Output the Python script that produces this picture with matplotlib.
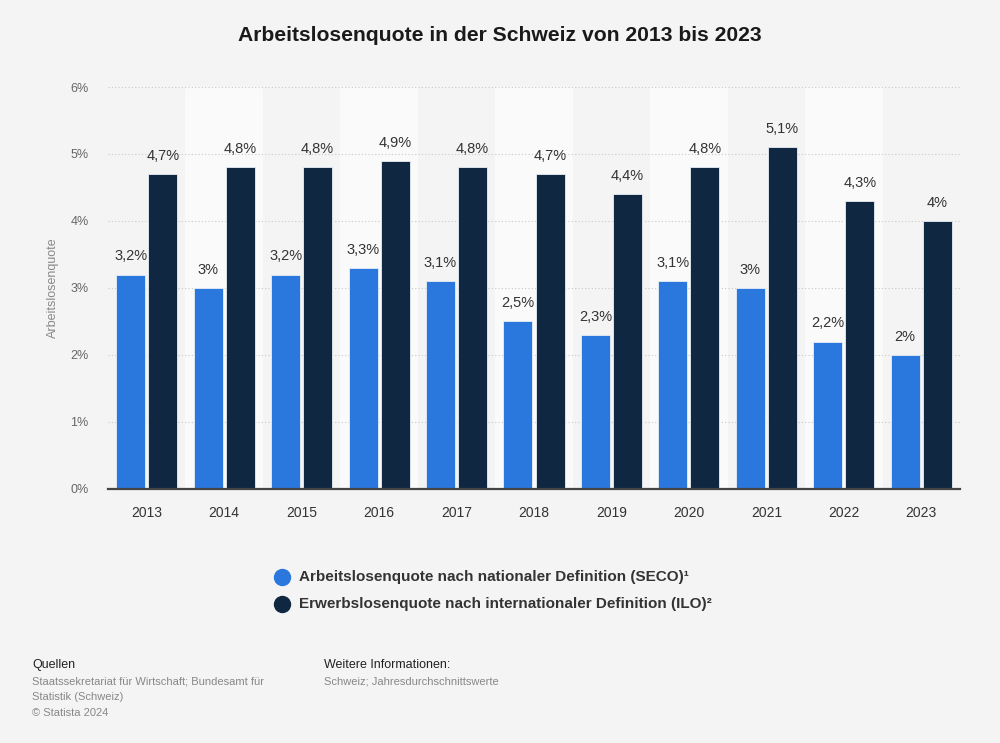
import numpy as np
import matplotlib.pyplot as plt
from matplotlib.lines import Line2D

plt.rcParams['font.family'] = ['Liberation Sans', 'DejaVu Sans']

# ============================= Data ============================= #
years = ['2013', '2014', '2015', '2016', '2017', '2018', '2019', '2020', '2021', '2022', '2023']
seco = [3.2, 3.0, 3.2, 3.3, 3.1, 2.5, 2.3, 3.1, 3.0, 2.2, 2.0]
ilo = [4.7, 4.8, 4.8, 4.9, 4.8, 4.7, 4.4, 4.8, 5.1, 4.3, 4.0]
yticks = [0, 1, 2, 3, 4, 5, 6]
series_names = ['Arbeitslosenquote nach nationaler Definition (SECO)¹',
                'Erwerbslosenquote nach internationaler Definition (ILO)²']

# ============================= Style ============================= #
bg = '#f4f4f4'
blue = '#2a77dd'
navy = '#0f2740'


def fmt(v):
    s = f"{v:.1f}".rstrip('0').rstrip('.')
    return s.replace('.', ',') + '%'


fig = plt.figure(figsize=(10, 7.43), dpi=100, facecolor=bg)
ax = fig.add_axes([0.108, 0.3419, 0.852, 0.541])
ax.set_facecolor(bg)

x = np.arange(len(years))
w = 0.375
off = 0.207

# alternating bands
for i in x:
    if i % 2 == 1:
        ax.axvspan(i - 0.5, i + 0.5, color='#fafafa', zorder=0, lw=0)

for yv in yticks[1:]:
    ax.axhline(yv, color='#c8c8c8', lw=0.8, ls=(0, (1, 2)), zorder=1)

b1 = ax.bar(x - off, seco, w, color=blue, edgecolor='#e8eef6', lw=0.6, zorder=2)
b2 = ax.bar(x + off, ilo, w, color=navy, edgecolor='#e8eef6', lw=0.6, zorder=2)

for bars, vals in ((b1, seco), (b2, ilo)):
    for b, v in zip(bars, vals):
        ax.annotate(fmt(v), (b.get_x() + b.get_width() / 2, v), xytext=(0, 8),
                    textcoords='offset points', ha='center', va='bottom',
                    fontsize=10.5, color='#333333', zorder=3)

ax.set_xlim(-0.5, len(years) - 0.5)
ax.set_ylim(0, 6)
ax.set_yticks(yticks)
ax.set_yticklabels([f"{t}%" for t in yticks], fontsize=9, color='#666666')
ax.set_xticks(x)
ax.set_xticklabels(years, fontsize=10, color='#333333')
ax.tick_params(axis='both', length=0)
ax.tick_params(axis='y', pad=14)
ax.tick_params(axis='x', pad=12)
for s in ['top', 'right', 'left']:
    ax.spines[s].set_visible(False)
ax.spines['bottom'].set_color('#444444')
ax.spines['bottom'].set_linewidth(1.6)
ax.spines['bottom'].set_zorder(4)
ax.set_ylabel('Arbeitslosenquote', fontsize=9, color='#888888', labelpad=8)

fig.text(0.5, 0.952, 'Arbeitslosenquote in der Schweiz von 2013 bis 2023',
         ha='center', va='center', fontsize=15.2, fontweight='bold', color='#1a1a1a')

# legend
for j, (name, col) in enumerate(zip(series_names, [blue, navy])):
    yy = 1 - (577 + 27 * j) / 743
    fig.add_artist(Line2D([0.282], [yy], transform=fig.transFigure, marker='o',
                          markersize=11.5, color=col, lw=0))
    fig.text(0.299, yy, name, ha='left', va='center', fontsize=11,
             fontweight='bold', color='#333333')

# footer
fig.text(0.032, 1 - 665 / 743, 'Quellen', fontsize=9, color='#222222', va='center')
fig.text(0.032, 1 - 682 / 743, 'Staatssekretariat für Wirtschaft; Bundesamt für',
         fontsize=8, color='#888888', va='center')
fig.text(0.032, 1 - 697 / 743, 'Statistik (Schweiz)', fontsize=8, color='#888888', va='center')
fig.text(0.032, 1 - 713 / 743, '© Statista 2024', fontsize=8, color='#888888', va='center')
fig.text(0.324, 1 - 665 / 743, 'Weitere Informationen:', fontsize=9, color='#222222', va='center')
fig.text(0.324, 1 - 682 / 743, 'Schweiz; Jahresdurchschnittswerte', fontsize=8,
         color='#888888', va='center')

fig.savefig('out.png', dpi=100, facecolor=bg)
